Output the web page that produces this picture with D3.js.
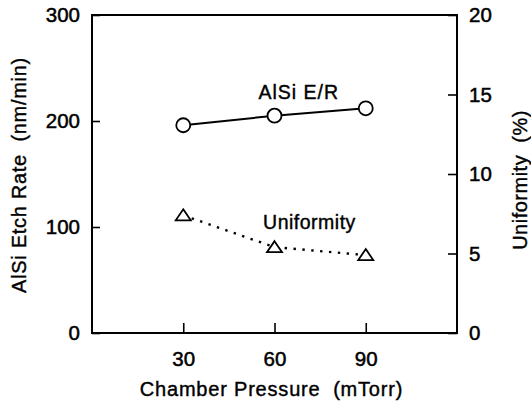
<!DOCTYPE html>
<html>
<head>
<meta charset="utf-8">
<script src="https://cdn.jsdelivr.net/npm/d3@7"></script>
<style>
  body { margin: 0; background: #fff; }
  svg { display: block; }
  text { font-family: "Liberation Sans", Arial, sans-serif; fill: #000; }
</style>
</head>
<body>
<svg></svg>
<script>
// data
const pressure = [30, 60, 90];
const etchRate = [196, 205, 212];
const uniformity = [7.4, 5.4, 4.9];
const xTicks = [30, 60, 90];
const yLeftTicks = [0, 100, 200, 300];
const yRightTicks = [0, 5, 10, 15, 20];

const W = 531, H = 409;
const margin = { top: 15, left: 92, right: 74, bottom: 76 };
const width = W - margin.left - margin.right;
const height = H - margin.top - margin.bottom;

const svg = d3.select("svg").attr("width", W).attr("height", H);
const g = svg.append("g").attr("transform", `translate(${margin.left},${margin.top})`);

const x = d3.scaleLinear().domain([0, 120]).range([0, width]);
const yL = d3.scaleLinear().domain([0, 300]).range([height, 0]);
const yR = d3.scaleLinear().domain([0, 20]).range([height, 0]);

// frame
g.append("rect")
  .attr("width", width).attr("height", height)
  .attr("fill", "none").attr("stroke", "#000").attr("stroke-width", 2);

function styleAxis(sel) {
  sel.select(".domain").remove();
  sel.selectAll(".tick line").attr("stroke", "#000").attr("stroke-width", 1.6);
  sel.selectAll(".tick text")
    .attr("font-size", 20.5)
    .attr("stroke", "#000").attr("stroke-width", 0.5);
}

g.append("g")
  .call(d3.axisLeft(yL).tickValues(yLeftTicks).tickSize(-8).tickPadding(12).tickFormat(d3.format("d")))
  .call(styleAxis);

g.append("g")
  .attr("transform", `translate(${width},0)`)
  .call(d3.axisRight(yR).tickValues(yRightTicks).tickSize(-9).tickPadding(12).tickFormat(d3.format("d")))
  .call(styleAxis);

g.append("g")
  .attr("transform", `translate(0,${height})`)
  .call(d3.axisBottom(x).tickValues(xTicks).tickSize(-10).tickPadding(18).tickFormat(d3.format("d")))
  .call(styleAxis);

// etch rate series
const erData = pressure.map((p, i) => ({ x: p, y: etchRate[i] }));
g.append("path")
  .datum(erData)
  .attr("fill", "none").attr("stroke", "#000").attr("stroke-width", 2)
  .attr("d", d3.line().x(d => x(d.x)).y(d => yL(d.y)));
g.selectAll(".er")
  .data(erData)
  .enter().append("circle")
  .attr("cx", d => x(d.x)).attr("cy", d => yL(d.y)).attr("r", 7)
  .attr("fill", "#fff").attr("stroke", "#000").attr("stroke-width", 1.8);

// uniformity series
const uData = pressure.map((p, i) => ({ x: p, y: uniformity[i] }));
g.append("path")
  .datum(uData)
  .attr("fill", "none").attr("stroke", "#000").attr("stroke-width", 2.4)
  .attr("stroke-dasharray", "2.4,6.5")
  .attr("d", d3.line().x(d => x(d.x)).y(d => yR(d.y)));
g.selectAll(".u")
  .data(uData)
  .enter().append("path")
  .attr("transform", d => `translate(${x(d.x)},${yR(d.y)})`)
  .attr("d", "M0,-6L7.5,5L-7.5,5Z")
  .attr("fill", "#fff").attr("stroke", "#000").attr("stroke-width", 1.8);

// series labels
g.append("text")
  .attr("x", x(68)).attr("y", 84)
  .attr("text-anchor", "middle").attr("font-size", 19.5)
  .attr("letter-spacing", 1).attr("stroke", "#000").attr("stroke-width", 0.4)
  .text("AlSi E/R");
g.append("text")
  .attr("x", x(71.5)).attr("y", 214)
  .attr("text-anchor", "middle").attr("font-size", 19.5)
  .attr("letter-spacing", 0.5).attr("stroke", "#000").attr("stroke-width", 0.4)
  .text("Uniformity");

// axis titles
svg.append("text")
  .attr("x", margin.left + width / 2 - 3).attr("y", 396)
  .attr("text-anchor", "middle").attr("font-size", 20)
  .attr("letter-spacing", 0.8).attr("stroke", "#000").attr("stroke-width", 0.4)
  .attr("xml:space", "preserve")
  .text("Chamber Pressure  (mTorr)");

svg.append("text")
  .attr("transform", "translate(26,175) rotate(-90)")
  .attr("text-anchor", "middle").attr("font-size", 20)
  .attr("letter-spacing", 0.7).attr("stroke", "#000").attr("stroke-width", 0.4)
  .attr("xml:space", "preserve")
  .text("AlSi Etch Rate  (nm/min)");

svg.append("text")
  .attr("transform", "translate(527,180) rotate(-90)")
  .attr("text-anchor", "middle").attr("font-size", 20)
  .attr("letter-spacing", 0.5).attr("stroke", "#000").attr("stroke-width", 0.4)
  .attr("xml:space", "preserve")
  .text("Uniformity  (%)");
</script>
</body>
</html>
